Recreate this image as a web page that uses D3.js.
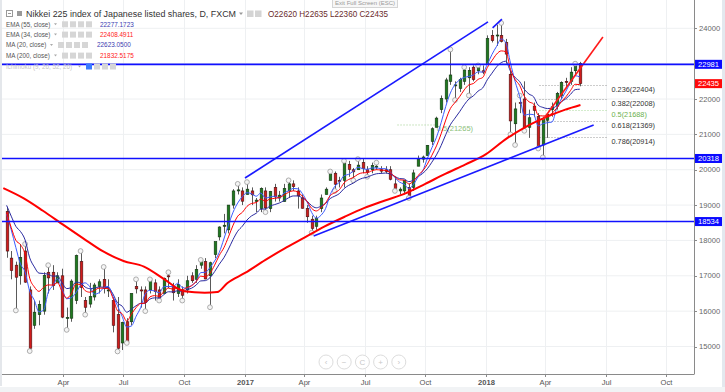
<!DOCTYPE html>
<html><head><meta charset="utf-8">
<script src="https://cdn.jsdelivr.net/npm/d3@7/dist/d3.min.js"></script>
<style>
html,body{margin:0;padding:0;background:#fff;overflow:hidden}
svg{display:block;font-family:"Liberation Sans",Arial,sans-serif}
</style></head><body>
<svg id="c" width="725" height="392"></svg>
<script>
// ---------- DATA (weekly candles, Wednesday-centred, Jan 2016 - May 2018) ----------
const firstWeek = "2016-01-06", lastWeek = "2018-05-24";
const open = [18820,17500,17300,17000,17700,16600,15600,15900,16000,17100,17100,16800,17000,15800,15800,16300,17400,16300,16200,16400,16700,16900,16600,16300,15900,15100,15700,15700,16700,16600,16600,16600,16800,16600,16500,17000,16700,16500,16600,16600,17000,16900,17300,17400,17000,17600,18100,18400,18300,19000,19400,19400,
19300,19400,19100,18900,19400,18900,19500,19200,19100,19400,19600,19400,19200,18900,18600,18400,18900,19300,19700,19900,19700,19700,20150,20000,20000,20200,20000,20000,20100,20000,20000,20000,19600,19400,19400,19500,19500,20100,20300,20400,20800,21200,21700,22000,22500,22400,22300,22500,22600,22900,22800,22800,
23000,23800,23800,23800,23600,22700,21300,21900,22000,21200,21800,21500,20700,21400,21700,21800,22100,22500,22500,22800,23000];
const high = [18950,17700,17400,17900,17900,16700,16300,16300,17100,17300,17300,17100,17200,16100,16900,17600,17700,16400,16800,16800,16900,17250,16900,16400,16400,15700,15800,16500,16900,16700,16700,16900,16900,16700,16950,17100,16800,16900,16700,17000,17100,17300,17450,17500,17400,17950,18400,18750,19000,19450,19600,19500,
19650,19500,19200,19500,19500,19400,19600,19400,19600,19700,19700,19500,19300,19000,18700,18700,19300,19500,19950,19950,19800,20250,20250,20050,20300,20300,20100,20200,20200,20100,20100,20100,19800,19500,19700,19600,20000,20400,20400,20700,21200,21500,22100,22600,23400,22500,22600,22900,22900,22950,22950,22950,
23800,23950,24100,24150,23700,22800,21900,22100,22500,21700,21900,21600,21500,21600,21900,22200,22500,22600,22900,23000,23050];
const low = [17510,16900,16020,16750,16800,14870,15500,15600,15900,16500,16600,16800,15800,15470,15700,16200,16400,15900,16100,16300,16500,16500,16400,15400,14860,14900,15100,15600,16500,16100,16000,16500,16300,16300,16500,16650,16300,16400,16300,16500,16800,16800,17200,16900,16110,17500,18000,18200,18200,18900,19300,19000,
19300,19000,18800,18800,18800,18800,19100,19100,19100,19200,19400,18900,18900,18500,18220,18300,18800,19300,19700,19400,19500,19500,19800,19700,20000,19900,19800,19900,20000,19900,19900,19700,19400,19300,19300,19200,19400,20100,20200,20400,20700,21200,21600,21900,22400,21970,22200,22400,22100,22500,22700,22700,
23000,23600,23500,23600,23000,21000,20700,21600,21100,20900,21500,20600,20350,20900,21500,21700,22000,22300,22400,22700,22360];
const close = [17700,17150,16960,17520,16820,14950,15970,16190,17010,16940,16720,17000,15830,15820,16850,17570,16670,16110,16410,16740,16830,16640,16600,15600,14950,15680,15110,16500,16630,16570,16250,16920,16550,16360,16930,16970,16520,16750,16450,16860,16860,17180,17450,16910,17370,17970,18380,18430,19000,19400,19430,19110,
19450,19290,19140,19470,18920,19380,19230,19280,19470,19600,19520,19260,18910,18670,18340,18620,19200,19450,19880,19590,19690,20180,20010,19940,20130,20030,19930,20120,20100,19960,19950,19730,19470,19450,19690,19270,19910,20300,20360,20690,21160,21460,22010,22540,22680,22400,22550,22820,22810,22550,22900,22760,
23710,23650,23810,23630,23270,21380,21720,21890,21180,21470,21680,20620,21450,21570,21780,22160,22470,22470,22760,22930,22435];
const ma20 = [18750,18300,17800,17330,17110,16560,16310,15980,16030,16530,16720,16920,16620,16350,16380,16520,16730,16800,16690,16480,16520,16660,16700,16420,16150,15850,15550,15580,15850,16100,16490,16590,16570,16520,16690,16700,16690,16790,16670,16650,16730,16840,17090,17100,17230,17420,17660,18040,18440,18800,19060,19240,
19350,19320,19250,19340,19200,19230,19250,19200,19340,19400,19470,19460,19320,19090,18790,18630,18710,18900,19290,19530,19650,19830,19870,19960,20070,20030,20010,20050,20050,20030,20030,19940,19780,19650,19590,19470,19580,19790,19960,20310,20620,20920,21330,21790,22170,22410,22540,22610,22640,22680,22770,22760,
22980,23260,23490,23700,23590,23020,22500,22070,21540,21570,21560,21240,21300,21330,21350,21740,21990,22220,22470,22660,22623];
const ema34 = [18780,18364,18005,17881,17610,16932,16686,16559,16675,16742,16737,16805,16557,16369,16491,16767,16741,16579,16536,16587,16650,16648,16636,16372,16010,15926,15717,15916,16097,16217,16226,16403,16439,16419,16548,16654,16620,16654,16602,16668,16716,16835,16991,16969,17072,17300,17576,17793,18100,18432,18686,18795,
18963,19046,19069,19170,19106,19175,19190,19214,19279,19362,19403,19367,19250,19101,18906,18833,18926,19058,19268,19350,19436,19625,19724,19780,19870,19912,19916,19968,20001,19990,19980,19916,19802,19713,19707,19597,19677,19835,19968,20152,20408,20675,21015,21404,21730,21900,22066,22258,22399,22438,22556,22609,
22891,23085,23269,23361,23339,22840,22554,22385,22078,21923,21860,21543,21520,21532,21595,21740,21925,22064,22241,22417,22408];
const ema55 = [18992,18686,18399,18253,18015,17507,17251,17075,17065,17044,16991,16993,16800,16637,16672,16821,16795,16681,16636,16653,16683,16676,16664,16487,16232,16141,15969,16057,16152,16221,16226,16341,16375,16373,16465,16548,16543,16578,16557,16607,16648,16737,16855,16863,16948,17117,17327,17509,17756,18029,18261,18403,
18577,18695,18768,18884,18890,18971,19015,19059,19127,19206,19258,19259,19201,19112,18983,18923,18968,19047,19186,19253,19325,19466,19557,19621,19706,19760,19788,19843,19885,19897,19906,19877,19809,19750,19740,19663,19704,19802,19894,20026,20213,20420,20684,20992,21272,21459,21640,21836,21998,22090,22225,22314,
22546,22730,22909,23029,23070,22790,22612,22492,22275,22141,22064,21824,21763,21730,21738,21808,21917,22009,22133,22265,22277];
const ma200Dates = ["2016-01-01","2016-02-01","2016-03-01","2016-04-01","2016-05-01","2016-06-01","2016-07-01","2016-08-01","2016-09-01","2016-10-01","2016-11-01","2016-11-20","2016-12-05","2017-01-01","2017-02-01","2017-03-01","2017-04-01","2017-05-01","2017-06-01","2017-07-01","2017-08-01","2017-09-01","2017-10-01","2017-11-01","2017-12-01","2018-01-01","2018-02-01","2018-03-01","2018-04-01","2018-05-01","2018-05-24"];
const ma200 = [19480,19190,18840,18440,18060,17680,17420,17260,16900,16560,16520,16540,16790,17080,17450,17760,18080,18390,18670,18920,19130,19330,19600,19890,20150,20440,20880,21200,21480,21700,21832];
const fractalHigh = [4,9,16,21,28,31,35,42,50,52,61,70,73,76,80,96,99,102,107,111,123];
const fractalLow = [2,5,13,17,24,26,30,33,38,44,56,66,71,75,78,84,87,97,100,109,110,112,115,116];
const levels = [22981, 20318, 18534];
const lastPrice = 22435;
const fibNames = ["0.236","0.382","0.5","0.618","0.786"];
const fibValues = [22404,22008,21688,21369,20914];
const fibRange = ["2018-03-23","2018-07-04"];
const oldFib = {name:"0.5", value:21265, from:"2017-08-20", to:"2017-10-17"};
const blueTrends = [
  [["2017-01-01",19766],["2018-01-04",24180]],
  [["2018-01-11",24010],["2018-01-25",24260]],
  [["2017-04-15",18126],["2018-06-13",21265]]
];
const redTrend = [["2018-03-28",21407],["2018-06-27",23754]];
const yTicks = [15000,16000,17000,18000,19000,20000,21000,22000,23000,24000];
const xTicks = ["2016-04-01","2016-07-01","2016-10-01","2017-01-01","2017-04-01","2017-07-01","2017-10-01","2018-01-01","2018-04-01","2018-07-01","2018-10-01"];
const legendRows = [
  {name:"EMA (55, close)", value:"22277.1723", color:"#3a3ab0", icons:62, vx:100},
  {name:"EMA (34, close)", value:"22408.4911", color:"#ff1a1a", icons:62, vx:100},
  {name:"MA (20, close)", value:"22623.0500", color:"#3a3ab0", icons:58, vx:97},
  {name:"MA (200, close)", value:"21832.5175", color:"#ff1a1a", icons:62, vx:100},
  {name:"Ichimoku (9, 26, 52, 26)", value:"", color:"#bbb", icons:86, vx:0, faded:true}
];
const ohlc = [["O","22620"],["H","22635"],["L","22360"],["C","22435"]];

// ---------- SCALES ----------
const P = d3.timeParse("%Y-%m-%d");
const plotR = 694, plotB = 374;
const x = d3.scaleTime().domain([new Date(2016,0,1), new Date(2018,9,1)]).range([3.3, 666.3]);
const y = d3.scaleLinear().domain([15000,24000]).range([346.5, 28.3]);
const dates = d3.timeWednesday.range(P(firstWeek), d3.timeDay.offset(P(lastWeek),1));
const n = Math.min(dates.length, close.length);
const svg = d3.select("#c");

// frame / strips
svg.append("rect").attr("x",0).attr("y",0).attr("width",725).attr("height",392).attr("fill","#fff");
svg.append("rect").attr("x",0).attr("y",0).attr("width",2).attr("height",386).attr("fill","#e4e7eb");
svg.append("rect").attr("x",722).attr("y",0).attr("width",3).attr("height",392).attr("fill","#e3e8ee");
svg.append("rect").attr("x",0).attr("y",387).attr("width",725).attr("height",5).attr("fill","#f1f3f5");

svg.append("defs").append("clipPath").attr("id","clip").append("rect")
  .attr("x",2).attr("y",0).attr("width",plotR-2).attr("height",plotB);
const g = svg.append("g").attr("clip-path","url(#clip)");

// grid
g.selectAll(".gy").data(yTicks).join("line").attr("x1",0).attr("x2",plotR)
  .attr("y1",d=>y(d)).attr("y2",d=>y(d)).attr("stroke","#eef0f2").attr("stroke-width",1);
g.selectAll(".gx").data(xTicks).join("line").attr("y1",0).attr("y2",plotB)
  .attr("x1",d=>Math.round(x(P(d)))+0.5).attr("x2",d=>Math.round(x(P(d)))+0.5).attr("stroke","#eef0f2");

// old fib (behind candles)
g.append("line").attr("x1",x(P(oldFib.from))).attr("x2",x(P(oldFib.to)))
  .attr("y1",y(oldFib.value)).attr("y2",y(oldFib.value)).attr("stroke","#9ccc8a").attr("stroke-dasharray","1,2");
g.append("text").attr("x",x(P(oldFib.to))+1).attr("y",y(oldFib.value)+6.5)
  .attr("font-size",7.5).attr("fill","#8bc07a").text(`${oldFib.name}(${oldFib.value})`);

// fib lines
fibValues.forEach((v,i)=>{
  const green = fibNames[i]==="0.5";
  g.append("line").attr("x1",x(P(fibRange[0]))).attr("x2",x(P(fibRange[1])))
    .attr("y1",Math.round(y(v))+0.5).attr("y2",Math.round(y(v))+0.5)
    .attr("stroke",green?"#a8d89a":"#999").attr("stroke-dasharray","1,2");
  g.append("text").attr("x",x(P(fibRange[1]))+4).attr("y",y(v)+7)
    .attr("font-size",7.3).attr("fill",green?"#6cb04e":"#333").text(`${fibNames[i]}(${v})`);
});

// candles
const cg = g.append("g");
for(let i=0;i<n;i++){
  const cx = Math.round(x(dates[i]))+0.5;
  const up = close[i]>=open[i];
  cg.append("line").attr("x1",cx).attr("x2",cx).attr("y1",y(high[i])).attr("y2",y(low[i]))
    .attr("stroke","#5a5a5a").attr("stroke-width",1);
  const top = y(Math.max(open[i],close[i])), bot = y(Math.min(open[i],close[i]));
  cg.append("rect").attr("x",cx-1.3).attr("y",top).attr("width",2.6).attr("height",Math.max(1,bot-top))
    .attr("fill",up?"#1f7a1f":"#d01c1c").attr("stroke",up?"#113311":"#4a1010").attr("stroke-width",0.6);
}
// fractal markers
const fr = fractalHigh.map(i=>[i,high[i]]).concat(fractalLow.map(i=>[i,low[i]]));
g.selectAll(".fr").data(fr.filter(d=>d[0]<n)).join("circle")
  .attr("cx",d=>x(dates[d[0]])).attr("cy",d=>y(d[1])).attr("r",2.4)
  .attr("fill","#f4f4f4").attr("stroke","#9a9a9a").attr("stroke-width",0.8);

// moving averages
const lineW = d3.line().x((d,i)=>x(dates[i])).y(d=>y(d)).curve(d3.curveMonotoneX);
g.append("path").attr("d",lineW(ema55.slice(0,n))).attr("fill","none").attr("stroke","#2a2aa0").attr("stroke-width",1);
g.append("path").attr("d",lineW(ma20.slice(0,n))).attr("fill","none").attr("stroke","#3b5bff").attr("stroke-width",1);
g.append("path").attr("d",lineW(ema34.slice(0,n))).attr("fill","none").attr("stroke","#ff0000").attr("stroke-width",1);
const lineD = d3.line().x(d=>x(P(d[0]))).y(d=>y(d[1])).curve(d3.curveMonotoneX);
g.append("path").attr("d",lineD(ma200Dates.map((d,i)=>[d,ma200[i]]))).attr("fill","none")
  .attr("stroke","#ff0000").attr("stroke-width",2);

// trend lines
const seg = d3.line().x(d=>x(P(d[0]))).y(d=>y(d[1]));
blueTrends.forEach(t=>g.append("path").attr("d",seg(t)).attr("stroke","#1a1aff").attr("stroke-width",1.6).attr("fill","none"));
g.append("path").attr("d",seg(redTrend)).attr("stroke","#ff1a1a").attr("stroke-width",1.6).attr("fill","none");

// horizontal levels
levels.forEach(v=>g.append("line").attr("x1",0).attr("x2",plotR).attr("y1",y(v)).attr("y2",y(v))
  .attr("stroke","#1010ff").attr("stroke-width",1.6));

// axes
svg.append("line").attr("x1",plotR+0.5).attr("x2",plotR+0.5).attr("y1",0).attr("y2",plotB).attr("stroke","#8a8a8a");
svg.append("line").attr("x1",2).attr("x2",plotR+0.5).attr("y1",plotB+0.5).attr("y2",plotB+0.5).attr("stroke","#8a8a8a");
const ya = svg.append("g");
yTicks.forEach(v=>{
  ya.append("line").attr("x1",plotR).attr("x2",plotR+3).attr("y1",Math.round(y(v))+0.5).attr("y2",Math.round(y(v))+0.5).attr("stroke","#8a8a8a");
  ya.append("text").attr("x",plotR+5).attr("y",y(v)).attr("dy","0.35em").attr("font-size",7.6).attr("fill","#666").text(v);
});
const xa = svg.append("g");
xTicks.forEach(s=>{
  const d = P(s), px = Math.round(x(d))+0.5;
  xa.append("line").attr("x1",px).attr("x2",px).attr("y1",plotB).attr("y2",plotB+3).attr("stroke","#8a8a8a");
  const lab = d.getMonth()===0 ? d3.timeFormat("%Y")(d) : d3.timeFormat("%b")(d);
  xa.append("text").attr("x",px).attr("y",plotB+10.5).attr("text-anchor","middle").attr("font-size",7.6)
    .attr("font-weight",d.getMonth()===0?"bold":"normal").attr("fill","#555").text(lab);
});

// right-side price boxes
function box(v,col){
  svg.append("rect").attr("x",plotR+1).attr("y",y(v)-4.5).attr("width",27).attr("height",9).attr("fill",col);
  svg.append("text").attr("x",plotR+14.5).attr("y",y(v)).attr("dy","0.35em").attr("text-anchor","middle")
    .attr("font-size",7.6).attr("fill","#fff").text(v);
}
levels.forEach(v=>box(v,"#0a0aff"));
box(lastPrice,"#ff0a0a");

// navigation buttons
const navSyms = ["‹","−","C","+","›"];
navSyms.forEach((s,i)=>{
  const cx = 326 + i*18.2;
  svg.append("circle").attr("cx",cx).attr("cy",362).attr("r",7).attr("fill","#fff").attr("stroke","#ddd");
  svg.append("text").attr("x",cx).attr("y",362).attr("dy","0.35em").attr("text-anchor","middle")
    .attr("font-size",8).attr("fill","#c8c8c8").text(s);
});

// legend
const L = svg.append("g");
L.append("rect").attr("x",6.5).attr("y",10.5).attr("width",6).attr("height",6).attr("fill","#fff").attr("stroke","#999");
L.append("line").attr("x1",8).attr("x2",11).attr("y1",13.5).attr("y2",13.5).attr("stroke","#999");
L.append("rect").attr("x",17).attr("y",11).attr("width",5).attr("height",5).attr("fill","#999");
L.append("text").attr("x",26).attr("y",17).attr("font-size",9.2).attr("fill","#333")
  .attr("textLength",210).attr("lengthAdjust","spacingAndGlyphs").text("Nikkei 225 index of Japanese listed shares, D, FXCM");
L.append("path").attr("d","M239,12.5 L243,12.5 L241,15 Z").attr("fill","#999");
[247,255].forEach(ix=>L.append("rect").attr("x",ix).attr("y",10.5).attr("width",6.5).attr("height",6.5).attr("fill","#d4d4d4"));
const ot = L.append("text").attr("x",268).attr("y",17).attr("font-size",8.4).attr("fill","#6b2b2b")
  .attr("textLength",120).attr("lengthAdjust","spacingAndGlyphs");
ot.text(ohlc.map(d=>d[0]+d[1]).join(" "));
legendRows.forEach((r,i)=>{
  const cy = [24.3,34.6,45,55.6,66.5][i];
  L.append("text").attr("x",6).attr("y",cy+2.2).attr("font-size",6.3).attr("fill",r.faded?"#c4c4c4":"#555").text(r.name);
  const tx = r.icons-8;
  L.append("path").attr("d",`M${tx},${cy-1} L${tx+3},${cy-1} L${tx+1.5},${cy+1} Z`).attr("fill","#aaa");
  for(let k=0;k<4;k++){
    L.append("rect").attr("x",r.icons+k*8).attr("y",cy-3).attr("width",6).attr("height",6)
      .attr("fill", (r.faded&&k===0)?"#3a7bff":"#d6d6d6");
  }
  if(r.value) L.append("text").attr("x",r.vx).attr("y",cy+2.2).attr("font-size",6.4).attr("fill",r.color).text(r.value);
});

// fullscreen tooltip
svg.append("rect").attr("x",332.5).attr("y",-1).attr("width",65).attr("height",8.5).attr("fill","#f7f7f7").attr("stroke","#d5d5d5");
svg.append("text").attr("x",365).attr("y",5.2).attr("text-anchor","middle").attr("font-size",6).attr("fill","#999").text("Exit Full Screen (ESC)");
</script></body></html>
